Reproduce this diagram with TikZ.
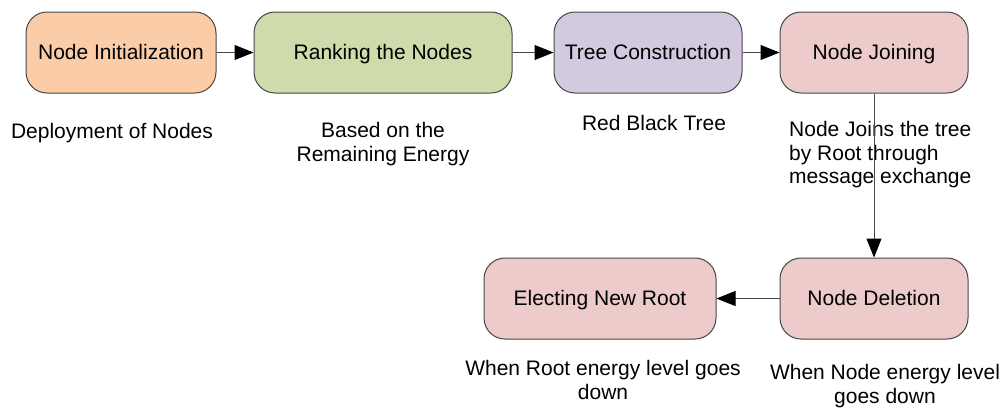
\documentclass[tikz,border=0pt]{standalone}
\usepackage{fontspec}
\setmainfont{Liberation Sans}
\usetikzlibrary{arrows.meta}
\definecolor{lineGray}{RGB}{70,70,70}
\definecolor{fillOrange}{RGB}{250,205,168}
\definecolor{fillGreen}{RGB}{205,220,170}
\definecolor{fillLav}{RGB}{211,202,224}
\definecolor{fillPink}{RGB}{236,203,202}
\begin{document}
\begin{tikzpicture}[x=1pt,y=-1pt,
  stage/.style={draw=lineGray, line width=1pt, rounded corners=21pt,
    minimum height=81pt, inner sep=0pt, text height=15pt, text depth=1pt,
    font=\fontsize{21}{25}\selectfont},
  note/.style={font=\fontsize{21}{23.5}\selectfont, inner sep=0pt},
  flow/.style={draw=lineGray, line width=1pt,
    -{Triangle[length=19pt,width=15pt,fill=black,color=black]}}]
  \useasboundingbox (0,0) rectangle (1007,416);

  % process stages
  \node[stage, fill=fillOrange, minimum width=190pt] (init) at (121,52.5) {Node Initialization};
  \node[stage, fill=fillGreen, minimum width=258pt] (rank) at (383,52.5) {Ranking the Nodes};
  \node[stage, fill=fillLav, minimum width=188pt] (tree) at (648,52.5) {Tree Construction};
  \node[stage, fill=fillPink, minimum width=188pt] (join) at (874,52.5) {Node Joining};
  \node[stage, fill=fillPink, minimum width=188pt] (del) at (874,298.5) {Node Deletion};
  \node[stage, fill=fillPink, minimum width=232pt] (elect) at (600,298.5) {Electing New Root};

  % descriptions
  \node[note] (initTxt) at (112,133) {Deployment of Nodes};
  \node[note, align=center] (rankTxt) at (383,144) {Based on the\\Remaining Energy};
  \node[note] (treeTxt) at (654,123) {Red Black Tree};
  \node[note, align=left, anchor=west] (joinTxt) at (789,155) {Node Joins the tree\\by Root through\\message exchange};
  \node[note, align=center] (electTxt) at (603,380) {When Root energy level goes\\down};
  \node[note, align=center] (delTxt) at (885,386) {When Node energy level\\goes down};

  % connectors
  \draw[flow] (init) -- (rank);
  \draw[flow] (rank) -- (tree);
  \draw[flow] (tree) -- (join);
  \draw[flow] (join) -- (del);
  \draw[flow] (del) -- (elect);
\end{tikzpicture}
\end{document}
